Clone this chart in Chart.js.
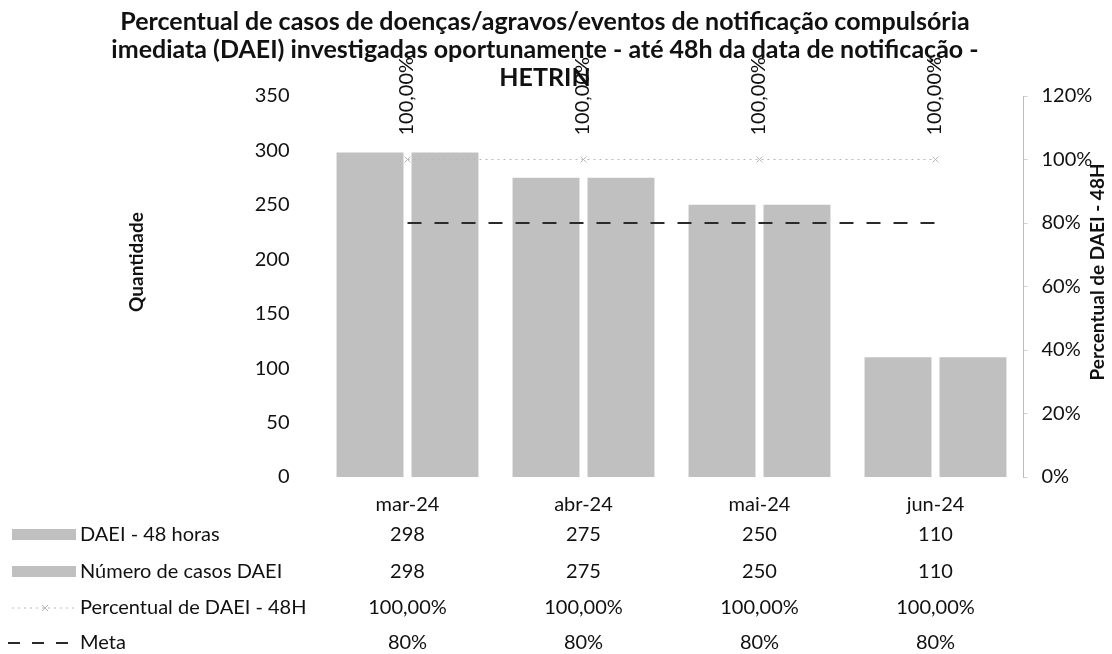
<!DOCTYPE html>
<html><head><meta charset="utf-8">
<script src="https://cdn.jsdelivr.net/npm/chart.js@4.4.1/dist/chart.umd.min.js"></script>
<style>html,body{margin:0;padding:0;background:#fff}#wrap{width:1112px;height:654px;position:relative}</style>
</head><body><div id="wrap"><canvas id="c" width="1112" height="654"></canvas></div>
<script>
// ---- data ----
const categories = ['mar-24', 'abr-24', 'mai-24', 'jun-24'];
const daei48Horas = [298, 275, 250, 110];
const numeroCasosDaei = [298, 275, 250, 110];
const percentualDaei48h = [1.0, 1.0, 1.0, 1.0];
const metaValues = [0.8, 0.8, 0.8, 0.8];
const seriesNames = ['DAEI - 48 horas', 'Número de casos DAEI', 'Percentual de DAEI - 48H', 'Meta'];
const leftAxisRange = { min: 0, max: 350, step: 50 };
const rightAxisRange = { min: 0, max: 1.2, step: 0.2 };
const titleLines = [
  'Percentual de casos de doenças/agravos/eventos de notificação compulsória',
  'imediata (DAEI) investigadas oportunamente - até 48h da data de notificação -',
  'HETRIN'
];
const leftAxisTitle = 'Quantidade';
const rightAxisTitle = 'Percentual de DAEI - 48H';

// ---- styles ----
const FONT = 'Lato, "Noto Sans", sans-serif';
const TEXT = '#111111';
const BAR_COLOR = '#c0c0c0';
const PCT_COLOR = '#b8b8b8';
const META_COLOR = '#2a2a2a';

const fmtInt = v => String(v);
const fmtPct2 = v => (v * 100).toFixed(2).replace('.', ',') + '%';
const fmtPct0 = v => Math.round(v * 100) + '%';

const extrasPlugin = {
  id: 'extras',
  afterDraw(chart) {
    const ctx = chart.ctx;
    const xs = chart.scales.x;
    ctx.save();
    ctx.fillStyle = TEXT;
    // title
    ctx.font = 'bold 25px ' + FONT;
    ctx.textAlign = 'center';
    ctx.textBaseline = 'middle';
    const tY = [22, 50, 78];
    titleLines.forEach((l, i) => ctx.fillText(l, 545, tY[i]));
    // axis titles
    ctx.font = 'bold 19px ' + FONT;
    ctx.save();
    ctx.translate(137, 262);
    ctx.rotate(-Math.PI / 2);
    ctx.fillText(leftAxisTitle, 0, 0);
    ctx.restore();
    ctx.save();
    ctx.translate(1098, 272);
    ctx.rotate(-Math.PI / 2);
    ctx.fillText(rightAxisTitle, 0, 0);
    ctx.restore();
    // rotated data labels of percentual series
    ctx.font = '20px ' + FONT;
    const pMeta = chart.getDatasetMeta(2);
    pMeta.data.forEach((pt, i) => {
      ctx.save();
      ctx.translate(pt.x - 1, pt.y - 24);
      ctx.rotate(-Math.PI / 2);
      ctx.textAlign = 'left';
      ctx.textBaseline = 'middle';
      ctx.fillText(fmtPct2(percentualDaei48h[i]), 0, 0);
      ctx.restore();
    });
    // data table
    ctx.font = '20px ' + FONT;
    ctx.textAlign = 'center';
    ctx.textBaseline = 'middle';
    categories.forEach((c, i) => ctx.fillText(c, xs.getPixelForValue(i), 505));
    const rows = [
      { name: seriesNames[0], vals: daei48Horas, fmt: fmtInt, key: 'bar' },
      { name: seriesNames[1], vals: numeroCasosDaei, fmt: fmtInt, key: 'bar' },
      { name: seriesNames[2], vals: percentualDaei48h, fmt: fmtPct2, key: 'pct' },
      { name: seriesNames[3], vals: metaValues, fmt: fmtPct0, key: 'meta' }
    ];
    const rowY = [535, 572, 608, 643];
    rows.forEach((r, ri) => {
      const y = rowY[ri];
      ctx.textAlign = 'left';
      ctx.fillStyle = TEXT;
      ctx.fillText(r.name, 80, y);
      ctx.textAlign = 'center';
      r.vals.forEach((v, i) => ctx.fillText(r.fmt(v), xs.getPixelForValue(i), y));
      // legend key
      if (r.key === 'bar') {
        ctx.fillStyle = BAR_COLOR;
        ctx.fillRect(12, y - 6, 64, 11);
      } else if (r.key === 'pct') {
        ctx.strokeStyle = PCT_COLOR;
        ctx.lineWidth = 1;
        ctx.setLineDash([2, 4]);
        ctx.beginPath(); ctx.moveTo(12, y); ctx.lineTo(76, y); ctx.stroke();
        ctx.setLineDash([]);
        ctx.beginPath(); ctx.moveTo(42, y - 3); ctx.lineTo(48, y + 3); ctx.moveTo(48, y - 3); ctx.lineTo(42, y + 3); ctx.stroke();
      } else {
        ctx.strokeStyle = META_COLOR;
        ctx.lineWidth = 2;
        ctx.setLineDash([12, 12]);
        ctx.beginPath(); ctx.moveTo(8, y); ctx.lineTo(70, y); ctx.stroke();
        ctx.setLineDash([]);
      }
    });
    ctx.restore();
  }
};

function build() {
  new Chart(document.getElementById('c'), {
    type: 'bar',
    data: {
      labels: categories,
      datasets: [
        { label: seriesNames[0], data: daei48Horas, backgroundColor: BAR_COLOR, yAxisID: 'y', order: 2,
          categoryPercentage: 0.852, barPercentage: 0.893 },
        { label: seriesNames[1], data: numeroCasosDaei, backgroundColor: BAR_COLOR, yAxisID: 'y', order: 2,
          categoryPercentage: 0.852, barPercentage: 0.893 },
        { type: 'line', label: seriesNames[2], data: percentualDaei48h, yAxisID: 'y1', order: 1,
          borderColor: PCT_COLOR, borderWidth: 1, borderDash: [2, 4], fill: false,
          pointStyle: 'crossRot', pointRadius: 4, pointBorderColor: PCT_COLOR, pointBorderWidth: 1 },
        { type: 'line', label: seriesNames[3], data: metaValues, yAxisID: 'y1', order: 0,
          borderColor: META_COLOR, borderWidth: 2, borderDash: [14, 13], fill: false, pointRadius: 0 }
      ]
    },
    options: {
      responsive: false,
      animation: false,
      events: [],
      layout: { padding: { top: 96, bottom: 177, left: 0, right: 0 } },
      plugins: { legend: { display: false }, title: { display: false }, tooltip: { enabled: false } },
      scales: {
        x: { display: false, offset: true },
        y: {
          position: 'left', min: leftAxisRange.min, max: leftAxisRange.max,
          grid: { display: false }, border: { display: false },
          ticks: { stepSize: leftAxisRange.step, padding: 22, color: TEXT, font: { family: FONT, size: 20 } },
          afterFit(s) { s.width = 319.5; }
        },
        y1: {
          position: 'right', min: rightAxisRange.min, max: rightAxisRange.max,
          grid: { drawOnChartArea: false, drawTicks: true, tickLength: 4, color: '#cfcfcf' },
          border: { display: true, color: '#bdbdbd', dash: [1, 2], width: 1 },
          ticks: { stepSize: rightAxisRange.step, padding: 14, color: TEXT, font: { family: FONT, size: 20 },
            callback: v => Math.round(v * 100) + '%' },
          afterFit(s) { s.width = 88.5; }
        }
      }
    },
    plugins: [extrasPlugin]
  });
}
if (document.fonts && document.fonts.load) {
  Promise.all([document.fonts.load('20px Lato'), document.fonts.load('bold 25px Lato')]).then(build, build);
} else build();
</script>
</body></html>
